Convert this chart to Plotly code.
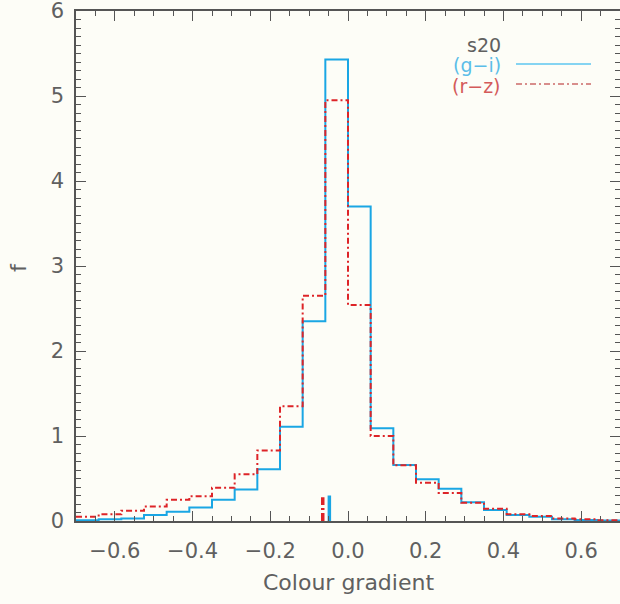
import plotly.graph_objects as go

# ---- data ----
bin_edges = [-0.7 + i * (1.4 / 24) for i in range(25)]
f_gi = [0.01, 0.02, 0.03, 0.07, 0.11, 0.16, 0.25, 0.37, 0.61, 1.11, 2.35, 5.43,
        3.70, 1.09, 0.66, 0.49, 0.38, 0.22, 0.13, 0.07, 0.05, 0.02, 0.012, 0.005]
f_rz = [0.05, 0.08, 0.12, 0.17, 0.25, 0.29, 0.39, 0.55, 0.83, 1.35, 2.65, 4.95,
        2.54, 1.00, 0.655, 0.45, 0.33, 0.216, 0.145, 0.078, 0.06, 0.03, 0.02, 0.008]
median_gi = -0.048
median_rz = -0.065
marker_height_gi = 0.30
marker_height_rz = 0.28
x_ticks = [-0.6, -0.4, -0.2, 0.0, 0.2, 0.4, 0.6]
y_ticks = [0, 1, 2, 3, 4, 5, 6]

BLUE = '#1aa6e4'
RED = '#dd2428'
GRAY = '#555555'
TXT = '#606060'
BG = '#fdfdf7'
FONT = 'DejaVu Sans'

fig = go.Figure()
fig.add_trace(go.Scatter(x=bin_edges, y=f_gi + [f_gi[-1]], mode='lines',
                         line=dict(color=BLUE, width=2, shape='hv'), showlegend=False))
fig.add_trace(go.Scatter(x=bin_edges, y=f_rz + [f_rz[-1]], mode='lines',
                         line=dict(color=RED, width=2, shape='hv', dash='6px,3px,2px,3px'),
                         showlegend=False))
fig.add_trace(go.Scatter(x=[median_gi, median_gi], y=[0, marker_height_gi], mode='lines',
                         line=dict(color=BLUE, width=3.5), showlegend=False))
fig.add_trace(go.Scatter(x=[median_rz, median_rz], y=[0, marker_height_rz], mode='lines',
                         line=dict(color=RED, width=3.5, dash='8px,3px,2px,3px'),
                         showlegend=False))

L, R, T, B = 76, 0, 11, 83
W, H = 620, 604
pw, ph = W - L - R, H - T - B


def px(x):
    return (x - L) / pw


def py(y):
    return (H - B - y) / ph


axis_common = dict(showline=True, linecolor=GRAY, linewidth=1.5, mirror='ticks',
                   ticks='inside', tickcolor=GRAY, tickwidth=1.3, showgrid=False,
                   zeroline=False, automargin=False, ticklabeloverflow='allow',
                   tickfont=dict(family=FONT, size=21, color=TXT))

fig.update_layout(
    width=W, height=H, autosize=False,
    margin=dict(l=L, r=R, t=T, b=B),
    paper_bgcolor=BG, plot_bgcolor=BG,
    xaxis=dict(range=[-0.7, 0.7], tickvals=x_ticks, tickformat='.1f', ticklen=10,
               ticklabelstandoff=10,
               minor=dict(dtick=0.05, ticks='inside', ticklen=5, tickcolor=GRAY, tickwidth=1.2),
               **axis_common),
    yaxis=dict(range=[0, 6], tickvals=y_ticks, ticklen=10, ticklabelstandoff=6,
               minor=dict(dtick=0.1, ticks='inside', ticklen=5, tickcolor=GRAY, tickwidth=1.2),
               **axis_common),
)

annotations = [
    dict(text='Colour gradient', x=px(348), y=py(582), xanchor='center', yanchor='middle',
         font=dict(family=FONT, size=22, color=TXT)),
    dict(text='f', x=px(18), y=py(268), xanchor='center', yanchor='middle', textangle=-90,
         font=dict(family=FONT, size=22, color=TXT)),
    dict(text='s20', x=px(503), y=py(45), xanchor='right', yanchor='middle',
         font=dict(family=FONT, size=19, color=TXT)),
    dict(text='(g\u2212i)', x=px(503), y=py(65), xanchor='right', yanchor='middle',
         font=dict(family=FONT, size=19, color='#5bbde8')),
    dict(text='(r\u2212z)', x=px(503), y=py(86), xanchor='right', yanchor='middle',
         font=dict(family=FONT, size=19, color='#d45a5a')),
]
for a in annotations:
    a.update(xref='paper', yref='paper', showarrow=False)
fig.update_layout(annotations=annotations)

fig.add_shape(type='line', xref='paper', yref='paper', x0=px(516), x1=px(591),
              y0=py(64), y1=py(64), line=dict(color='#5cc6f0', width=1.6))
fig.add_shape(type='line', xref='paper', yref='paper', x0=px(516), x1=px(591),
              y0=py(84), y1=py(84), line=dict(color='#cc6a6a', width=1.6, dash='6px,3px,2px,3px'))

fig.write_html('out.html', config={'responsive': False, 'displayModeBar': False},
               post_script="document.body.style.margin='0';document.body.style.overflow='hidden';")
